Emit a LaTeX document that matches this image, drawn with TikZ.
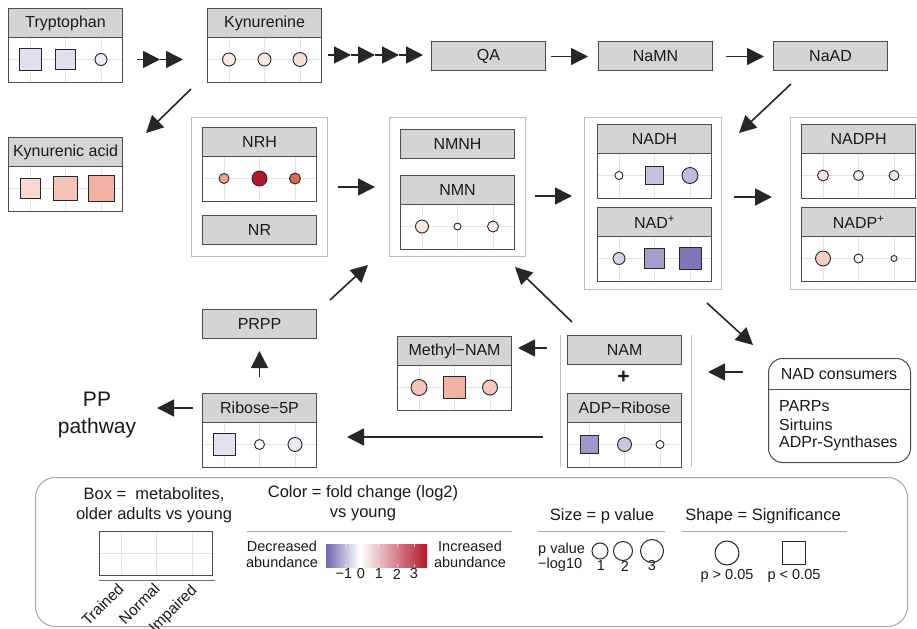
\documentclass[tikz,border=0pt]{standalone}
\usepackage{fontspec}
\setmainfont{Liberation Sans}
\usetikzlibrary{arrows.meta}
\definecolor{hdrgray}{HTML}{D3D4D4}
\definecolor{bord}{HTML}{4D4D4D}
\definecolor{grpgray}{HTML}{BDBDBD}
\definecolor{gridc}{HTML}{E4E4E4}
\definecolor{arrc}{HTML}{262626}
\definecolor{txt}{HTML}{1A1A1A}
\definecolor{leggray}{HTML}{A6A6A6}
\definecolor{cbpurple}{HTML}{7268B0}
\definecolor{cbred}{HTML}{B2182B}
\tikzset{
 hdr/.style={draw=bord, fill=hdrgray, line width=1.1bp, minimum width=114bp, minimum height=29bp, inner sep=0pt, anchor=north west, font=\fontsize{16bp}{19bp}\selectfont},
 bodyb/.style={draw=bord, line width=1.1bp, minimum width=114bp, minimum height=45bp, inner sep=0pt, anchor=north west},
 grp/.style={draw=grpgray, line width=1bp, anchor=north west, inner sep=0pt},
 arr/.style={draw=arrc, line width=1.6bp, -{Triangle[length=17bp,width=17bp]}},
 symb/.style={draw=black!85, line width=0.9bp},
 lt/.style={align=center, inner sep=0pt, font=\fontsize{16.5bp}{20bp}\selectfont},
 st/.style={align=center, inner sep=0pt, font=\fontsize{14.5bp}{16bp}\selectfont},
 rotl/.style={anchor=east, rotate=45, inner sep=0pt, font=\fontsize{15.5bp}{17bp}\selectfont},
}
\newcommand\metab[4]{%
 \node[hdr] (#1) at (#2,#3) {#4};
 \draw[gridc, line width=1bp] (#2+22,#3+29) -- ++(0,45) (#2+57.5,#3+29) -- ++(0,45) (#2+93,#3+29) -- ++(0,45) (#2,#3+51.5) -- ++(114,0);
 \node[bodyb] (#1b) at (#2,#3+29) {};
}
\newcommand\symc[4]{\definecolor{tmpc}{HTML}{#4}\draw[symb, fill=tmpc] (#1,#2) circle[radius=#3];}
\newcommand\syms[4]{\definecolor{tmpc}{HTML}{#4}\draw[symb, fill=tmpc] ({#1-#3/2},{#2-#3/2}) rectangle ++(#3,#3);}
\begin{document}
\begin{tikzpicture}[x=1bp,y=-1bp, every node/.style={text=txt}]
\useasboundingbox (0,0) rectangle (917,629);
\clip (0,0) rectangle (917,629);
\fill[white] (0,0) rectangle (917,629);

% group frames
\node[grp, minimum width=136bp, minimum height=139bp] (NRHg) at (191,117) {};
\node[grp, minimum width=136bp, minimum height=139bp] (NMNg) at (389,117) {};
\node[grp, minimum width=137bp, minimum height=172bp] (NADHg) at (584,117) {};
\node[grp, minimum width=140bp, minimum height=172bp] (NADPHg) at (790,117) {};
\node[anchor=north west, inner sep=0pt, minimum width=131bp, minimum height=132bp] (NAMg) at (560,335) {};
\draw[grpgray, line width=1bp] (NAMg.north west) -- (NAMg.south west) (NAMg.north east) -- (NAMg.south east);

% metabolite boxes with data
\metab{Trp}{8}{8}{Tryptophan}
\syms{30}{59.5}{22}{E0DFF0}
\syms{65.5}{59.5}{20}{E0DFF0}
\symc{101}{59.5}{6}{EDECF5}

\metab{Kyn}{207}{8}{Kynurenine}
\symc{229}{59.5}{6.5}{FCE9E4}
\symc{264.5}{59.5}{6.5}{FCE9E4}
\symc{300}{59.5}{7}{F9DCD4}

\metab{Kac}{8}{137}{Kynurenic acid}
\syms{30}{188.5}{20}{F9D6CE}
\syms{65.5}{188.5}{24}{F5C3B8}
\syms{101}{188.5}{26}{F0B1A4}

\metab{NRH}{202}{127}{NRH}
\symc{224}{178.5}{5}{F2A58F}
\symc{259.5}{178.5}{7.5}{B2182B}
\symc{295}{178.5}{5.5}{D96A55}

\metab{NMN}{400}{175}{NMN}
\symc{422}{226.5}{6.5}{FDE8E2}
\symc{457.5}{226.5}{3.5}{FFFFFF}
\symc{493}{226.5}{5.5}{FCEEEA}

\metab{NADH}{597}{124}{NADH}
\symc{619}{175.5}{4}{FFFFFF}
\syms{654.5}{175.5}{18}{C6C1DF}
\symc{690}{175.5}{8}{C0BBDC}

\metab{NADp}{597}{207}{NAD\textsuperscript{+}}
\symc{619}{258.5}{6}{D4D1E8}
\syms{654.5}{258.5}{20}{A59ECD}
\syms{690}{258.5}{22}{7F77B5}

\metab{NADPH}{801}{124}{NADPH}
\symc{823}{175.5}{5.5}{FBE3DC}
\symc{858.5}{175.5}{5}{EEEDF6}
\symc{894}{175.5}{5}{E8E6F2}

\metab{NADPp}{801}{207}{NADP\textsuperscript{+}}
\symc{823}{258.5}{7.5}{F7CDC4}
\symc{858.5}{258.5}{4.5}{FDF6F2}
\symc{894}{258.5}{3}{FFFFFF}

\metab{MeNAM}{397}{336}{Methyl−NAM}
\symc{419}{387.5}{8}{F5C4B8}
\syms{454.5}{387.5}{22}{F0B3A5}
\symc{490}{387.5}{7.5}{F6C7BB}

\metab{Rib}{202}{393}{Ribose−5P}
\syms{224}{444.5}{22}{E3E1F0}
\symc{259.5}{444.5}{5}{FFFFFF}
\symc{295}{444.5}{7}{ECEBF4}

\metab{ADPR}{567}{393}{ADP−Ribose}
\syms{589}{444.5}{18}{9F97CA}
\symc{624.5}{444.5}{7}{C9C4E1}
\symc{660}{444.5}{4}{FFFFFF}

% simple boxes
\node[hdr] (QA) at (431,41) {QA};
\node[hdr] (NaMN) at (598,41) {NaMN};
\node[hdr] (NaAD) at (773,41) {NaAD};
\node[hdr] (NR) at (202,215) {NR};
\node[hdr] (NMNH) at (400,129) {NMNH};
\node[hdr] (PRPP) at (202,309) {PRPP};
\node[hdr] (NAM) at (567,335) {NAM};
\node[font=\bfseries\fontsize{21bp}{21bp}\selectfont, inner sep=0pt] (plus) at (623.5,377) {+};

% NAD consumers
\node[draw=bord, line width=1bp, rounded corners=14bp, anchor=north west, inner sep=0pt, minimum width=142bp, minimum height=104bp] (cons) at (768,358) {};
\draw[bord, line width=1bp] (cons.west |- 0,389) -- (cons.east |- 0,389);
\node[font=\fontsize{16bp}{19bp}\selectfont, inner sep=0pt] (consT) at (839,374.5) {NAD consumers};
\node[font=\fontsize{16bp}{19bp}\selectfont, inner sep=0pt, anchor=west] (parps) at (779,406) {PARPs};
\node[font=\fontsize{16bp}{19bp}\selectfont, inner sep=0pt, anchor=west] (sirt) at (779,424.5) {Sirtuins};
\node[font=\fontsize{16bp}{19bp}\selectfont, inner sep=0pt, anchor=west] (adpr) at (779,443) {ADPr-Synthases};

% PP pathway
\node[align=center, inner sep=0pt, font=\fontsize{21bp}{27bp}\selectfont] (PP) at (97,415) {PP\\pathway};

% arrow end points
\coordinate (t0) at (137,59.5); \coordinate (t1) at (160,59.5); \coordinate (t2) at (183,59.5);
\coordinate (k0) at (328,55); \coordinate (k1) at (351,55); \coordinate (k2) at (375,55); \coordinate (k3) at (399,55); \coordinate (k4) at (423,55);
\coordinate (qa1) at (551,56.5); \coordinate (qa2) at (588,56.5);
\coordinate (nm1) at (726,56.5); \coordinate (nm2) at (764,56.5);
\coordinate (ky1) at (191,89); \coordinate (ky2) at (146,133);
\coordinate (na1) at (791,84); \coordinate (na2) at (739,133);
\coordinate (nr1) at (338,187); \coordinate (nr2) at (375,187);
\coordinate (nn1) at (535,196); \coordinate (nn2) at (572,196);
\coordinate (nh1) at (734,197); \coordinate (nh2) at (772,197);
\coordinate (nc1) at (707,303); \coordinate (nc2) at (753,345);
\coordinate (cn1) at (743,372); \coordinate (cn2) at (708,372);
\coordinate (nm3) at (547,348); \coordinate (nm4) at (518,348);
\coordinate (ng1) at (572,322); \coordinate (ng2) at (515,267);
\coordinate (ad1) at (543,437); \coordinate (ad2) at (347,437);
\coordinate (rb1) at (259.5,377); \coordinate (rb2) at (259.5,351);
\coordinate (pr1) at (330,300); \coordinate (pr2) at (368,265);
\coordinate (pp1) at (193,408); \coordinate (pp2) at (157,408);

\draw[arr] (t0) -- (t1); \draw[arr] (t1) -- (t2);
\draw[arr] (k0) -- (k1); \draw[arr] (k1) -- (k2); \draw[arr] (k2) -- (k3); \draw[arr] (k3) -- (k4);
\draw[arr] (qa1) -- (qa2);
\draw[arr] (nm1) -- (nm2);
\draw[arr] (ky1) -- (ky2);
\draw[arr] (na1) -- (na2);
\draw[arr] (nr1) -- (nr2);
\draw[arr] (nn1) -- (nn2);
\draw[arr] (nh1) -- (nh2);
\draw[arr] (nc1) -- (nc2);
\draw[arr] (cn1) -- (cn2);
\draw[arr] (nm3) -- (nm4);
\draw[arr] (ng1) -- (ng2);
\draw[arr] (ad1) -- (ad2);
\draw[arr] (rb1) -- (rb2);
\draw[arr] (pr1) -- (pr2);
\draw[arr] (pp1) -- (pp2);

% legend
\node[draw=leggray, line width=1bp, rounded corners=20bp, anchor=north west, inner sep=0pt, minimum width=872bp, minimum height=149bp] (leg) at (35,477) {};
\node[lt] (boxT) at (154,505.5) {Box = ~metabolites,\\older adults vs young};
\draw[gridc, line width=1bp] (121,531) -- (121,575) (156,531) -- (156,575) (192,531) -- (192,575) (99,553) -- (212,553);
\node[draw=bord, line width=1.1bp, anchor=north west, inner sep=0pt, minimum width=113bp, minimum height=44bp] (lbox) at (99,531) {};
\draw[bord!80, line width=0.8bp] (99,580) -- (215,580);
\node[rotl] (trained) at (121,586) {Trained};
\node[rotl] (normal) at (157,586) {Normal};
\node[rotl] (impaired) at (195,588) {Impaired};

\node[lt] (colT) at (363,503) {Color = fold change (log2)\\vs young};
\draw[leggray, line width=1bp] (247,531) -- (512,531);
\shade[left color=cbpurple, right color=white] (326,544) rectangle (360,567);
\shade[left color=white, right color=cbred] (360,544) rectangle (427,567);
\foreach \tx in {345,360,378,397,414} {\draw[white, opacity=0.6, line width=0.8bp] (\tx,544) -- ++(0,3) (\tx,567) -- ++(0,-3);}
\node[st] (dec) at (282,554) {Decreased\\abundance};
\node[st] (inc) at (470,554) {Increased\\abundance};
\node[st] (m1) at (344,574) {−1};
\node[st] (z0) at (361,574) {0};
\node[st] (p1) at (379,574) {1};
\node[st] (p2) at (397,574) {2};
\node[st] (p3) at (414,574) {3};

\node[lt] (sizeT) at (602,516) {Size = p value};
\draw[leggray, line width=1bp] (538,531) -- (665,531);
\node[anchor=west, inner sep=0pt, font=\fontsize{14.5bp}{16bp}\selectfont] (pv) at (538,550) {p value};
\node[anchor=west, inner sep=0pt, font=\fontsize{14.5bp}{16bp}\selectfont] (lg) at (538,565) {−log10};
\draw[black!85, line width=1bp] (600,551) circle[radius=8] (623,551) circle[radius=9.5] (652,551) circle[radius=11.5];
\node[st] (s1) at (601,566) {1};
\node[st] (s2) at (625,566) {2};
\node[st] (s3) at (652,566) {3};

\node[lt] (shapeT) at (763,516) {Shape = Significance};
\draw[leggray, line width=1bp] (682,531) -- (847,531);
\draw[black!85, line width=1bp] (727,553) circle[radius=12];
\draw[black!85, line width=1bp] (782,541) rectangle (805,564);
\node[st] (pg) at (727,576) {p > 0.05};
\node[st] (pl) at (794,576) {p < 0.05};
\end{tikzpicture}
\end{document}
